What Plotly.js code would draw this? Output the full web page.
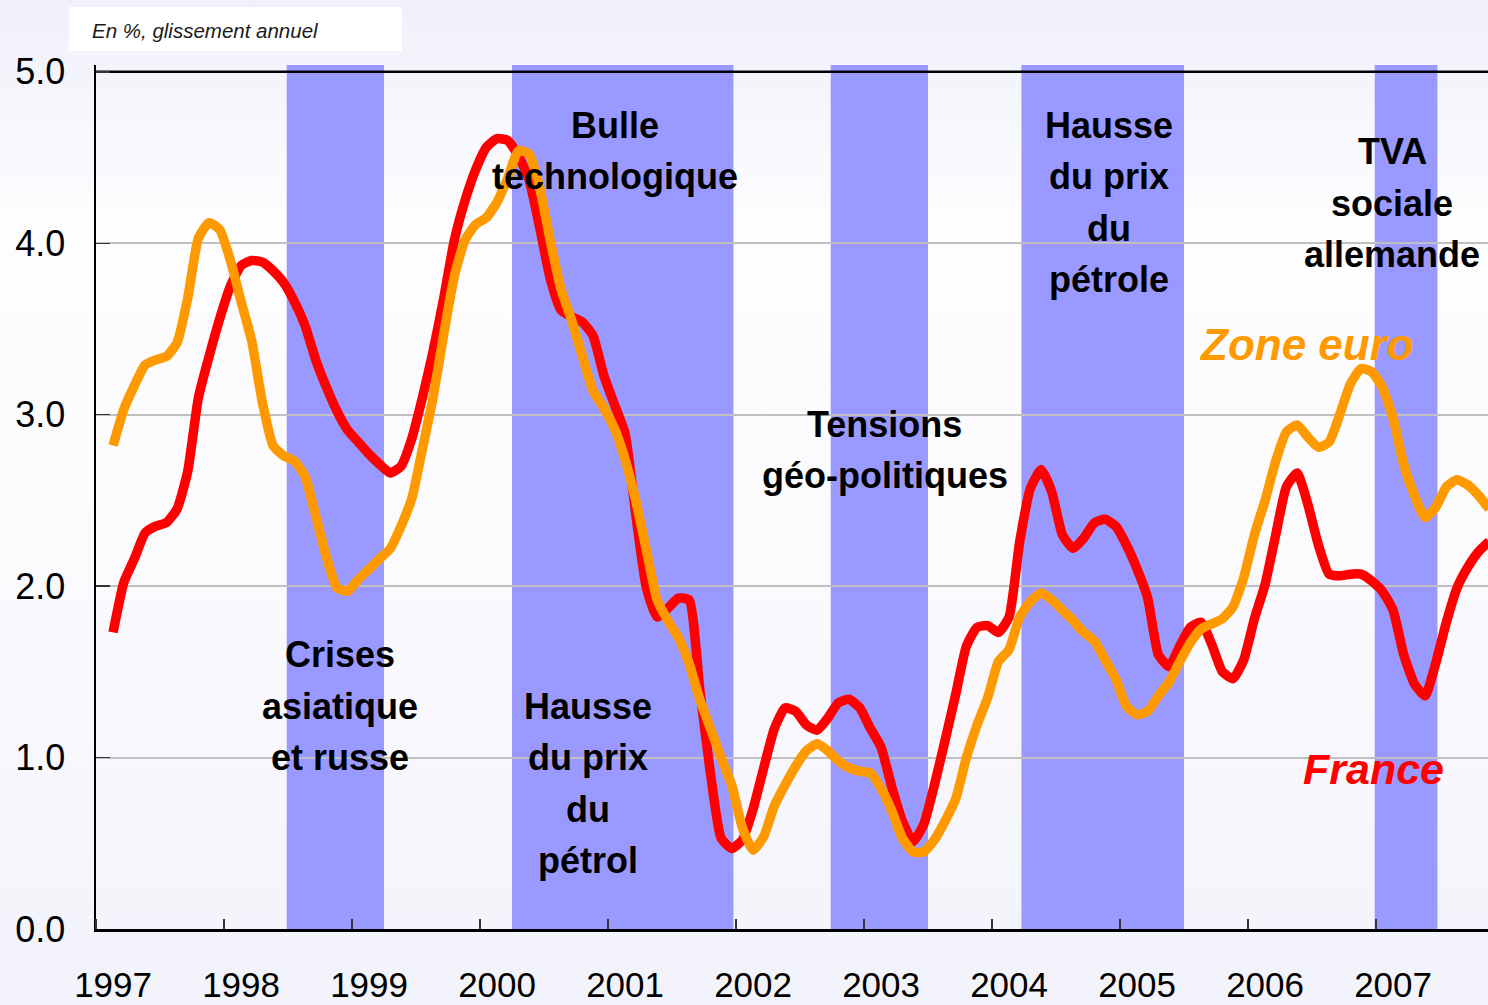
<!DOCTYPE html>
<html>
<head>
<meta charset="utf-8">
<script src="https://cdn.plot.ly/plotly-3.0.1.min.js"></script>
<style>
  html, body { margin: 0; padding: 0; }
  body {
    width: 1488px; height: 1005px; overflow: hidden;
    background: linear-gradient(to bottom, #eff0fa 0%, #fdfdff 22%, #fbfbfe 55%, #f2f2fb 100%);
  }
  #chart { width: 1488px; height: 1005px; }
</style>
</head>
<body>
<div id="chart"></div>
<script>
// ---- Data (monthly, year-on-year %, starting early 1997) ----
const startYear = 1997;
const startMonthOffset = 1.6; // first observation position in months from start of 1997

const france = [
  1.73, 2.02, 2.16, 2.31, 2.35, 2.37, 2.45, 2.67, 3.10, 3.34, 3.56, 3.75,
  3.87, 3.90, 3.89, 3.84, 3.77, 3.66, 3.52, 3.32, 3.16, 3.02, 2.91, 2.84,
  2.77, 2.71, 2.66, 2.70, 2.86, 3.10, 3.37, 3.68, 4.02, 4.25, 4.43, 4.56,
  4.61, 4.60, 4.51, 4.37, 4.09, 3.79, 3.61, 3.57, 3.54, 3.46, 3.23, 3.06,
  2.89, 2.42, 1.99, 1.82, 1.87, 1.93, 1.92, 1.40, 0.91, 0.53, 0.47, 0.52,
  0.70, 0.94, 1.17, 1.29, 1.27, 1.19, 1.16, 1.23, 1.32, 1.34, 1.29, 1.17,
  1.06, 0.83, 0.63, 0.51, 0.61, 0.84, 1.10, 1.37, 1.65, 1.76, 1.77, 1.73,
  1.82, 2.26, 2.57, 2.68, 2.55, 2.30, 2.22, 2.28, 2.37, 2.39, 2.35, 2.24,
  2.10, 1.93, 1.60, 1.53, 1.65, 1.76, 1.79, 1.66, 1.50, 1.46, 1.57, 1.81,
  2.01, 2.30, 2.58, 2.66, 2.48, 2.24, 2.07, 2.06, 2.07, 2.07, 2.03, 1.97,
  1.86, 1.60, 1.43, 1.36, 1.55, 1.79, 1.99, 2.11, 2.20, 2.26
];

const zoneEuro = [
  2.82, 3.03, 3.17, 3.29, 3.32, 3.34, 3.42, 3.68, 4.03, 4.12, 4.08, 3.90,
  3.66, 3.43, 3.07, 2.82, 2.76, 2.73, 2.64, 2.41, 2.17, 1.99, 1.97, 2.04,
  2.10, 2.16, 2.22, 2.35, 2.51, 2.80, 3.10, 3.47, 3.81, 4.02, 4.11, 4.15,
  4.24, 4.38, 4.54, 4.52, 4.32, 4.01, 3.73, 3.55, 3.34, 3.14, 3.04, 2.92,
  2.74, 2.50, 2.21, 1.92, 1.80, 1.70, 1.55, 1.34, 1.17, 1.00, 0.84, 0.59,
  0.46, 0.54, 0.72, 0.84, 0.95, 1.04, 1.08, 1.04, 0.98, 0.94, 0.92, 0.91,
  0.82, 0.69, 0.53, 0.45, 0.45, 0.52, 0.63, 0.76, 1.00, 1.19, 1.35, 1.56,
  1.63, 1.82, 1.91, 1.96, 1.92, 1.86, 1.80, 1.73, 1.68, 1.57, 1.46, 1.30,
  1.25, 1.27, 1.36, 1.44, 1.56, 1.67, 1.75, 1.78, 1.81, 1.88, 2.05, 2.30,
  2.50, 2.73, 2.90, 2.94, 2.87, 2.81, 2.84, 3.00, 3.18, 3.27, 3.25, 3.16,
  2.98, 2.71, 2.53, 2.40, 2.46, 2.58, 2.62, 2.59, 2.53, 2.45
];

const yearLabels = ['1997','1998','1999','2000','2001','2002','2003','2004','2005','2006','2007'];
const yTickVals = [0, 1, 2, 3, 4, 5];
const yTickText = ['0.0', '1.0', '2.0', '3.0', '4.0', '5.0'];

// Shaded episodes (start, end in fractional years)
const episodeStart = [1998.49, 2000.25, 2002.74, 2004.23, 2006.99];
const episodeEnd   = [1999.25, 2001.98, 2003.50, 2005.50, 2007.48];

// Episode labels (lines of text)
const episodeLabels = [
  ['Crises', 'asiatique', 'et russe'],
  ['Bulle', 'technologique'],
  ['Hausse', 'du prix', 'du', 'pétrol'],
  ['Tensions', 'géo-politiques'],
  ['Hausse', 'du prix', 'du', 'pétrole'],
  ['TVA', 'sociale', 'allemande']
];
const seriesNames = ['France', 'Zone euro'];
const unitNote = 'En %, glissement annuel';

// ---- Layout helpers (positions / styles) ----
const labelPos = [
  {x: 1998.906, y: 1.600},
  {x: 2001.055, y: 4.690},
  {x: 2000.844, y: 1.300},
  {x: 2003.164, y: 2.945},
  {x: 2004.914, y: 4.690},
  {x: 2007.125, y: 4.535}
];
const lineGapPx = 51.5;

const xEnd = 1997 + 1392 / 128;
const xs = france.map((_, i) => startYear + (i + startMonthOffset) / 12);
const xsE = zoneEuro.map((_, i) => startYear + (i + startMonthOffset) / 12);
const labelTickVals = yearLabels.map((_, i) => startYear + startMonthOffset / 12 + i);

const FONT = 'Liberation Sans, Arial, Helvetica, sans-serif';

const traces = [
  {
    x: xs, y: france, type: 'scatter', mode: 'lines', name: seriesNames[0],
    line: {color: '#ff0000', width: 9.5, shape: 'spline', smoothing: 0.5},
    hoverinfo: 'skip', cliponaxis: true
  },
  {
    x: xsE, y: zoneEuro, type: 'scatter', mode: 'lines', name: seriesNames[1],
    line: {color: '#ff9900', width: 9.5, shape: 'spline', smoothing: 0.5},
    hoverinfo: 'skip', cliponaxis: true
  }
];

const shapes = [];
// white note box above the plot
shapes.push({type: 'rect', xref: 'paper', yref: 'paper', x0: -0.0194, x1: 0.2198, y0: 1.0162, y1: 1.0671,
  fillcolor: '#ffffff', line: {width: 0}, layer: 'below'});
// top border line at 5.0
shapes.push({type: 'line', xref: 'x', yref: 'y', x0: 1997, x1: xEnd, y0: 5, y1: 5,
  line: {color: '#000000', width: 2.5}, layer: 'between'});
// shaded episodes
episodeStart.forEach((s, i) => {
  shapes.push({type: 'rect', xref: 'x', yref: 'paper', x0: s, x1: episodeEnd[i], y0: 0, y1: 1,
    fillcolor: '#9999ff', line: {width: 0}, layer: 'between'});
});

const annotations = [];
episodeLabels.forEach((lines, k) => {
  lines.forEach((t, j) => {
    annotations.push({
      x: labelPos[k].x, y: labelPos[k].y, xref: 'x', yref: 'y',
      text: '<b>' + t + '</b>', showarrow: false,
      xanchor: 'center', yanchor: 'middle', yshift: -j * lineGapPx,
      font: {family: FONT, size: 36, color: '#000000'}
    });
  });
});
annotations.push({
  x: 2006.46, y: 3.41, xref: 'x', yref: 'y', text: '<b><i>' + seriesNames[1] + '</i></b>',
  showarrow: false, xanchor: 'center', yanchor: 'middle',
  font: {family: FONT, size: 44, color: '#ff9900'}
});
annotations.push({
  x: 2006.98, y: 0.935, xref: 'x', yref: 'y', text: '<b><i>' + seriesNames[0] + '</i></b>',
  showarrow: false, xanchor: 'center', yanchor: 'middle',
  font: {family: FONT, size: 43, color: '#ff0000'}
});
annotations.push({
  x: -0.0045, y: 1.0394, xref: 'paper', yref: 'paper', text: '<i>' + unitNote + '</i>',
  showarrow: false, xanchor: 'left', yanchor: 'middle',
  font: {family: FONT, size: 20.5, color: '#1a1a1a'}
});

const layout = {
  width: 1488, height: 1005,
  margin: {l: 96, r: 0, t: 65, b: 76, pad: 0},
  paper_bgcolor: 'rgba(0,0,0,0)',
  plot_bgcolor: 'rgba(0,0,0,0)',
  showlegend: false,
  font: {family: FONT, color: '#000000'},
  xaxis: {
    range: [1997, xEnd],
    tickmode: 'array', tickvals: labelTickVals, ticktext: yearLabels,
    ticks: '', showgrid: false, zeroline: false,
    showline: true, linecolor: '#000000', linewidth: 2.5,
    tickfont: {family: FONT, size: 35, color: '#000000'},
    ticklabelstandoff: 23,
    minor: {tickmode: 'linear', tick0: 1997, dtick: 1, ticks: 'inside', ticklen: 10,
            tickwidth: 1.5, tickcolor: '#333333', showgrid: false}
  },
  yaxis: {
    range: [0, 5.04],
    tickmode: 'array', tickvals: yTickVals, ticktext: yTickText,
    ticks: 'inside', ticklen: 14, tickwidth: 1.5, tickcolor: '#333333',
    showgrid: true, gridcolor: '#c0c0c0', gridwidth: 2,
    zeroline: false,
    showline: true, linecolor: '#000000', linewidth: 2.5,
    tickfont: {family: FONT, size: 36, color: '#000000'},
    ticklabelstandoff: 21
  },
  shapes: shapes,
  annotations: annotations
};

Plotly.newPlot('chart', traces, layout, {staticPlot: true, displayModeBar: false});
</script>
</body>
</html>
